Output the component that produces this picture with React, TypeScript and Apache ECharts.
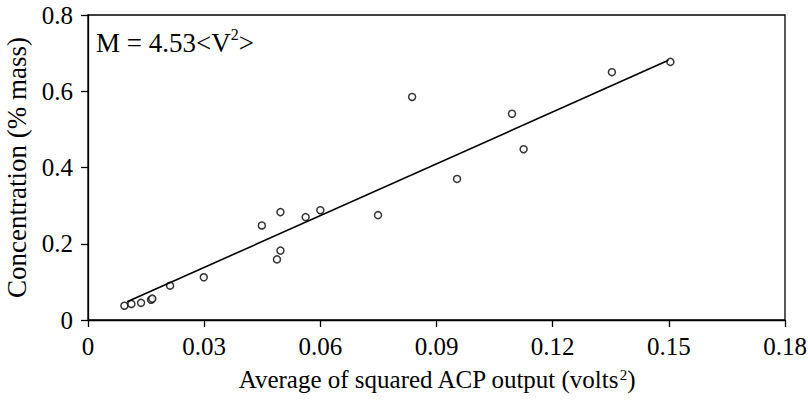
import React, { useEffect, useRef } from "react";
import * as echarts from "echarts";

const xValues = [0.0094, 0.0112, 0.0137, 0.0163, 0.0166, 0.0212, 0.0299, 0.0449, 0.0497, 0.0488, 0.0497, 0.0562, 0.06, 0.0749, 0.0837, 0.0953, 0.1095, 0.1125, 0.1353, 0.1504];
const yValues = [0.0375, 0.042, 0.045, 0.053, 0.056, 0.09, 0.112, 0.248, 0.283, 0.159, 0.182, 0.27, 0.288, 0.275, 0.585, 0.37, 0.541, 0.448, 0.65, 0.677];
const fitSlope = 4.53;
const fitIntercept = 0.002;
const fitRange = [0.0101, 0.1499];
const xTicks = [0, 0.03, 0.06, 0.09, 0.12, 0.15, 0.18];
const yTicks = [0, 0.2, 0.4, 0.6, 0.8];

const FONT = "Liberation Serif";

export default function App() {
  const ref = useRef<HTMLDivElement>(null);
  useEffect(() => {
    if (!ref.current) return;
    const chart = echarts.init(ref.current, null, { renderer: "svg" });
    const points = xValues.map((x, i) => [x, yValues[i]]);
    const fit = fitRange.map((x) => [x, fitSlope * x + fitIntercept]);
    const axisCommon = {
      axisLine: { show: true, onZero: false, lineStyle: { color: "#000", width: 1.3 } },
      axisTick: { show: true, inside: false, length: 7, lineStyle: { color: "#000", width: 1.3 } },
      splitLine: { show: false },
    };
    chart.setOption({
      animation: false,
      backgroundColor: "#fff",
      grid: {
        left: 88,
        right: 23,
        top: 15,
        bottom: 83,
        containLabel: false,
        outerBoundsMode: "none",
        show: true,
        borderColor: "#000",
        borderWidth: 1.3,
      },
      xAxis: {
        type: "value",
        min: xTicks[0],
        max: xTicks[xTicks.length - 1],
        interval: xTicks[1] - xTicks[0],
        ...axisCommon,
        axisLabel: {
          color: "#000",
          fontFamily: FONT,
          fontSize: 25,
          margin: 14,
          formatter: (v: number) => (v === 0 ? "0" : v.toFixed(2)),
        },
        name: "Average of squared ACP output (volts{sup|2})",
        nameLocation: "middle",
        nameGap: 47,
        nameTextStyle: {
          color: "#000",
          fontFamily: FONT,
          fontSize: 25,
          rich: {
            sup: { fontFamily: FONT, fontSize: 15, color: "#000", verticalAlign: "top", lineHeight: 14 },
          },
        },
      },
      yAxis: {
        type: "value",
        min: yTicks[0],
        max: yTicks[yTicks.length - 1],
        interval: yTicks[1] - yTicks[0],
        ...axisCommon,
        axisLabel: {
          color: "#000",
          fontFamily: FONT,
          fontSize: 25,
          margin: 15,
          formatter: (v: number) => (v === 0 ? "0" : v.toFixed(1)),
        },
        name: "Concentration (% mass)",
        nameLocation: "middle",
        nameGap: 50,
        nameTextStyle: { color: "#000", fontFamily: FONT, fontSize: 27 },
      },
      graphic: [
        {
          type: "text",
          left: 96,
          top: 26,
          style: {
            text: "{a|M = 4.53<V}{s|2}{a|>}",
            rich: {
              a: { fontFamily: FONT, fontSize: 27, fill: "#000", lineHeight: 30, verticalAlign: "bottom" },
              s: { fontFamily: FONT, fontSize: 16, fill: "#000", lineHeight: 30, verticalAlign: "top" },
            },
          },
        },
      ],
      series: [
        {
          type: "line",
          data: fit,
          showSymbol: false,
          lineStyle: { color: "#000", width: 1.6 },
          silent: true,
        },
        {
          type: "scatter",
          data: points,
          symbol: "circle",
          symbolSize: 7,
          itemStyle: { color: "#fff", borderColor: "#000", borderWidth: 1.5 },
        },
      ],
    });
    return () => chart.dispose();
  }, []);
  return <div ref={ref} style={{ position: "fixed", left: 0, top: 0, width: 808, height: 403 }} />;
}
